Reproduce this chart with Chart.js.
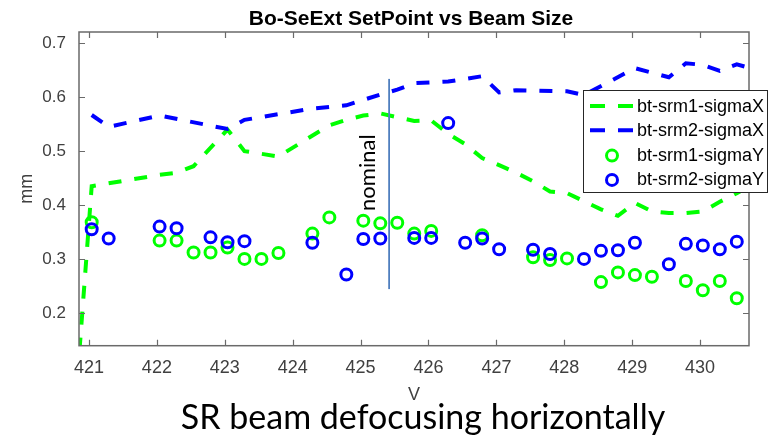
<!DOCTYPE html>
<html>
<head>
<meta charset="utf-8">
<title>Bo-SeExt SetPoint vs Beam Size</title>
<script src="https://cdn.jsdelivr.net/npm/chart.js@4.4.1/dist/chart.umd.min.js"></script>
<style>
  html, body { margin: 0; padding: 0; background: #fff; }
  #wrap { position: relative; width: 769px; height: 439px; }
</style>
</head>
<body>
<div id="wrap"><canvas id="beamChart" width="769" height="439"></canvas></div>
<script>
// ── Axis ticks ───────────────────────────────────────────────────
const X_TICKS = [421, 422, 423, 424, 425, 426, 427, 428, 429, 430];
const Y_TICKS = [0.2, 0.3, 0.4, 0.5, 0.6, 0.7];
const X_MIN = 420.853, X_MAX = 430.72;
const Y_MIN = 0.139, Y_MAX = 0.721;

// ── Series (setpoint V → beam size mm) ───────────────────────────
const SRM1_X_V  = [420.86, 421.04, 422.04, 422.29, 422.54, 423.04, 423.29, 423.79, 424.54, 424.79, 425.04,
                   425.29, 425.54, 425.79, 426.04, 426.29, 426.54, 426.79, 427.04, 427.29, 427.54, 427.79,
                   428.04, 428.54, 428.79, 429.04, 429.29, 429.54, 429.79, 430.04, 430.29, 430.54, 430.79];
const SRM1_X_MM = [0.13, 0.435, 0.456, 0.460, 0.472, 0.540, 0.500, 0.490, 0.548, 0.558, 0.566,
                   0.570, 0.563, 0.556, 0.557, 0.532, 0.513, 0.487, 0.474, 0.460, 0.444, 0.425,
                   0.422, 0.392, 0.380, 0.404, 0.388, 0.385, 0.385, 0.388, 0.406, 0.422, 0.440];

const SRM2_X_V  = [421.04, 421.29, 422.04, 423.04, 423.29, 424.29, 424.79, 425.29, 425.54, 425.79, 426.29, 426.79,
                   427.04, 427.29, 428.04, 428.29, 429.04, 429.54, 429.79, 430.04, 430.29, 430.54, 430.79];
const SRM2_X_MM = [0.567, 0.545, 0.566, 0.541, 0.558, 0.579, 0.585, 0.605, 0.614, 0.626, 0.629, 0.639,
                   0.609, 0.613, 0.611, 0.604, 0.654, 0.637, 0.663, 0.660, 0.649, 0.661, 0.652];

const SRM1_Y_V  = [421.04, 422.04, 422.29, 422.54, 422.79, 423.04, 423.29, 423.54, 423.79, 424.29, 424.54, 425.04, 425.29, 425.54,
                   425.79, 426.04, 426.79, 427.54, 427.79, 428.04, 428.54, 428.79, 429.04, 429.29, 429.79, 430.04, 430.29, 430.54];
const SRM1_Y_MM = [0.368, 0.334, 0.334, 0.312, 0.312, 0.321, 0.300, 0.300, 0.311, 0.347, 0.377, 0.371, 0.366, 0.367,
                   0.347, 0.352, 0.344, 0.303, 0.298, 0.301, 0.257, 0.275, 0.270, 0.267, 0.259, 0.242, 0.259, 0.227];

const SRM2_Y_V  = [421.04, 421.29, 422.04, 422.29, 422.79, 423.04, 423.29, 424.29, 424.79, 425.04, 425.29, 425.79, 426.04, 426.29,
                   426.54, 426.79, 427.04, 427.54, 427.79, 428.29, 428.54, 428.79, 429.04, 429.54, 429.79, 430.04, 430.29, 430.54];
const SRM2_Y_MM = [0.355, 0.338, 0.360, 0.357, 0.340, 0.331, 0.333, 0.330, 0.271, 0.337, 0.338, 0.339, 0.339, 0.552,
                   0.330, 0.338, 0.318, 0.317, 0.309, 0.300, 0.315, 0.316, 0.330, 0.290, 0.328, 0.325, 0.318, 0.332];

// nominal setpoint marker
const NOMINAL_V = 425.42;
const NOMINAL_SPAN = [0.244, 0.634];
const NOMINAL_LABEL_MM = 0.46;

const GREEN = '#00ff00', BLUE = '#0000ff';
const SANS = "'Liberation Sans', Arial, sans-serif";
const AXIS_GRAY = '#6a6a6a';
const TEXT_GRAY = '#404040';

const pairs = (xs, ys) => xs.map((x, i) => ({ x, y: ys[i] }));

// ── Plugins: MATLAB-style box, nominal marker, legend, title/caption ─
const axesBox = {
    id: 'axesBox',
    afterDatasetsDraw(chart) {
        const { ctx, chartArea: a, scales: { x, y } } = chart;
        ctx.save();
        ctx.strokeStyle = AXIS_GRAY;
        ctx.lineWidth = 1.5;
        ctx.strokeRect(a.left, a.top, a.right - a.left, a.bottom - a.top);
        ctx.lineWidth = 1.2;
        ctx.beginPath();
        X_TICKS.forEach(v => {
            const px = Math.round(x.getPixelForValue(v)) + 0.5;
            ctx.moveTo(px, a.bottom); ctx.lineTo(px, a.bottom - 6);
            ctx.moveTo(px, a.top); ctx.lineTo(px, a.top + 6);
        });
        Y_TICKS.forEach(v => {
            const py = Math.round(y.getPixelForValue(v)) + 0.5;
            ctx.moveTo(a.left, py); ctx.lineTo(a.left + 6, py);
            ctx.moveTo(a.right, py); ctx.lineTo(a.right - 6, py);
        });
        ctx.stroke();

        // nominal line + rotated label
        const nx = x.getPixelForValue(NOMINAL_V);
        ctx.strokeStyle = '#4f7fbf';
        ctx.lineWidth = 1.8;
        ctx.beginPath();
        ctx.moveTo(nx, y.getPixelForValue(NOMINAL_SPAN[1]));
        ctx.lineTo(nx, y.getPixelForValue(NOMINAL_SPAN[0]));
        ctx.stroke();

        ctx.translate(nx - 14, y.getPixelForValue(NOMINAL_LABEL_MM));
        ctx.rotate(-Math.PI / 2);
        ctx.fillStyle = '#000';
        ctx.font = "22px Lato, 'Open Sans', sans-serif";
        ctx.textAlign = 'center';
        ctx.textBaseline = 'alphabetic';
        ctx.fillText('nominal', 0, 0);
        ctx.restore();
    }
};

const boxLegend = {
    id: 'boxLegend',
    afterDraw(chart) {
        const { ctx } = chart;
        const left = 583, top = 90, w = 185, h = 103;
        ctx.save();
        ctx.fillStyle = '#fff';
        ctx.fillRect(left, top, w, h);
        ctx.strokeStyle = '#262626';
        ctx.lineWidth = 1;
        ctx.strokeRect(left + 0.5, top + 0.5, w - 1, h - 1);

        chart.data.datasets.forEach((ds, i) => {
            const ry = 107 + i * 24.3;
            ctx.strokeStyle = ds.borderColor;
            if (ds.showLine) {
                ctx.lineWidth = ds.borderWidth;
                ctx.setLineDash([15, 13]);
                ctx.beginPath();
                ctx.moveTo(590, ry - 1); ctx.lineTo(633, ry - 1);
                ctx.stroke();
                ctx.setLineDash([]);
            } else {
                ctx.lineWidth = ds.borderWidth;
                ctx.beginPath();
                ctx.arc(612, ry, ds.pointRadius, 0, Math.PI * 2);
                ctx.stroke();
            }
            ctx.fillStyle = '#000';
            ctx.font = '18px ' + SANS;
            ctx.textAlign = 'left';
            ctx.textBaseline = 'middle';
            ctx.fillText(ds.label, 637, ry);
        });
        ctx.restore();
    }
};

const headings = {
    id: 'headings',
    afterDraw(chart) {
        const { ctx } = chart;
        ctx.save();
        ctx.fillStyle = '#000';
        ctx.textAlign = 'center';
        ctx.textBaseline = 'alphabetic';
        ctx.font = 'bold 21px ' + SANS;
        ctx.fillText('Bo-SeExt SetPoint vs Beam Size', 411, 25);
        ctx.font = "34px Lato, 'Open Sans', sans-serif";
        ctx.fillText('SR beam defocusing horizontally', 423, 429);
        ctx.restore();
    }
};

// ── Chart ────────────────────────────────────────────────────────
const lineSet = (label, xs, ys, color, order) => ({
    label, data: pairs(xs, ys), showLine: true,
    borderColor: color, borderWidth: 4, borderDash: [13, 13],
    pointRadius: 0, fill: false, tension: 0, clip: 0, order
});
const markerSet = (label, xs, ys, color, order) => ({
    label, data: pairs(xs, ys), showLine: false,
    borderColor: color, backgroundColor: 'rgba(0,0,0,0)',
    pointStyle: 'circle', pointRadius: 5.5, borderWidth: 3, order
});

new Chart(document.getElementById('beamChart'), {
    type: 'scatter',
    data: {
        datasets: [
            lineSet('bt-srm1-sigmaX', SRM1_X_V, SRM1_X_MM, GREEN, 3),
            lineSet('bt-srm2-sigmaX', SRM2_X_V, SRM2_X_MM, BLUE, 2),
            markerSet('bt-srm1-sigmaY', SRM1_Y_V, SRM1_Y_MM, GREEN, 1),
            markerSet('bt-srm2-sigmaY', SRM2_Y_V, SRM2_Y_MM, BLUE, 0)
        ]
    },
    options: {
        responsive: false,
        animation: false,
        devicePixelRatio: 1,
        events: [],
        layout: { padding: { left: 0, right: 20, top: 32, bottom: 33.3 } },
        plugins: { legend: { display: false }, title: { display: false }, tooltip: { enabled: false } },
        scales: {
            x: {
                type: 'linear', min: X_MIN, max: X_MAX,
                afterBuildTicks: s => { s.ticks = X_TICKS.map(value => ({ value })); },
                afterFit: s => { s.height = 60; },
                grid: { display: false, drawTicks: false },
                border: { display: false },
                ticks: { autoSkip: false, maxRotation: 0, padding: 12, color: TEXT_GRAY,
                         font: { family: SANS, size: 18 }, callback: v => String(v) },
                title: { display: true, text: 'V', color: TEXT_GRAY, padding: { top: 0, bottom: 0 },
                         font: { family: SANS, size: 18 } }
            },
            y: {
                type: 'linear', min: Y_MIN, max: Y_MAX,
                afterBuildTicks: s => { s.ticks = Y_TICKS.map(value => ({ value })); },
                afterFit: s => { s.width = 79; },
                grid: { display: false, drawTicks: false },
                border: { display: false },
                ticks: { autoSkip: false, padding: 13, color: TEXT_GRAY,
                         font: { family: SANS, size: 17 }, callback: v => v.toFixed(1) },
                title: { display: true, text: 'mm', color: TEXT_GRAY, padding: { top: 16, bottom: 0 },
                         font: { family: SANS, size: 18 } }
            }
        }
    },
    plugins: [axesBox, boxLegend, headings]
});
</script>
</body>
</html>
